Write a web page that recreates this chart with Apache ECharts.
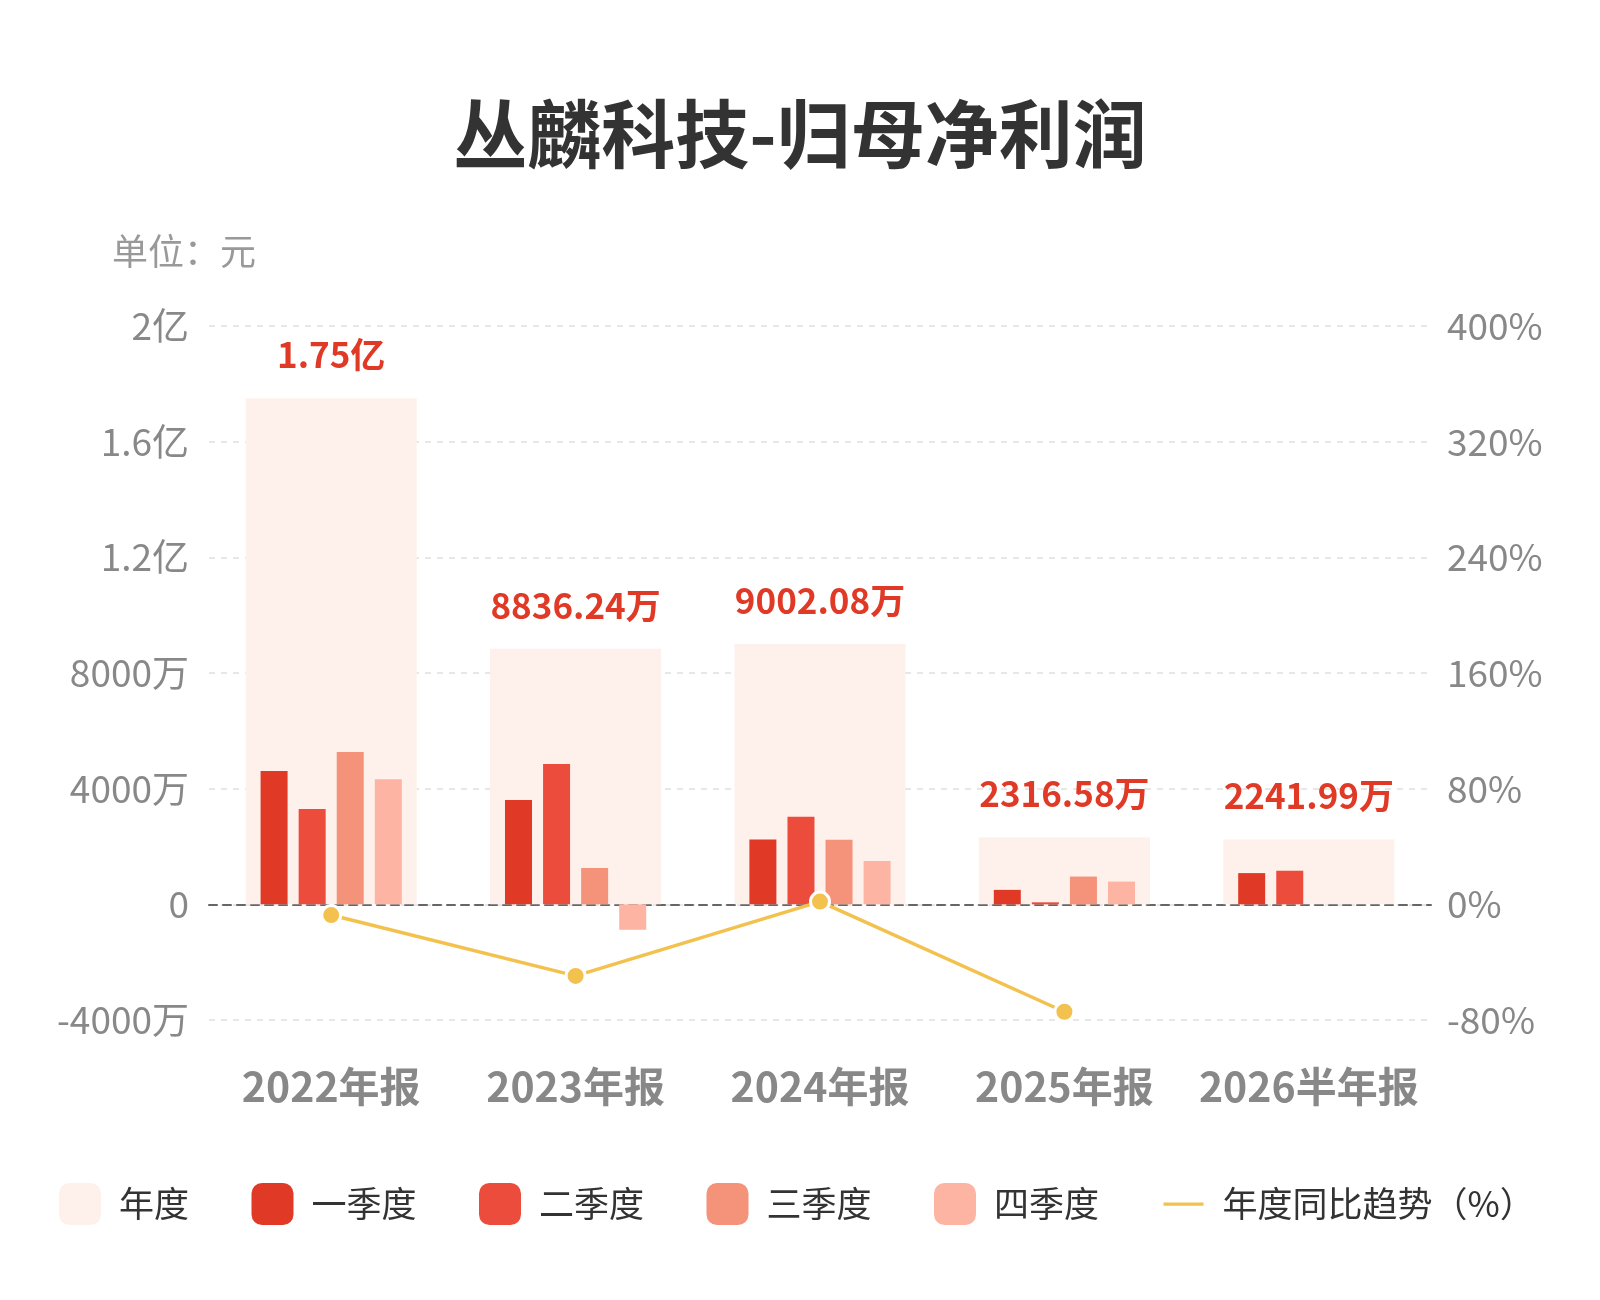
<!DOCTYPE html>
<html style="height: 100%">
<head>
    <meta charset="utf-8">
</head>
<body style="height: 100%; margin: 0; background: #fff">
<div id="main" style="width: 1600px; height: 1300px"></div>
<script src="https://cdn.jsdelivr.net/npm/echarts@6/dist/echarts.min.js"></script>
<script type="text/javascript">
    // 数据（单位：万元，同比单位：%）
    var categories = ['2022年报', '2023年报', '2024年报', '2025年报', '2026半年报'];
    var annual = [17500, 8836.24, 9002.08, 2316.58, 2241.99];
    var q1 = [4611, 3610, 2240, 500, 1080];
    var q2 = [3297, 4850, 3030, 70, 1162];
    var q3 = [5268, 1256, 2230, 960, null];
    var q4 = [4324, -880, 1502, 786, null];
    var yoy = [-7.4, -49.5, 1.88, -74.3, null];

    var numFont = "'Liberation Sans Narrow', 'Noto Sans CJK SC', sans-serif";
    var cjkFont = "'Noto Sans CJK SC', sans-serif";

    function fmtAxis(v) {
        if (v === 0) return '0';
        if (Math.abs(v) >= 10000) return (v / 10000) + '亿';
        return v + '万';
    }
    function fmtAnnual(p) {
        var v = p.value;
        if (Math.abs(v) >= 10000) return (v / 10000).toFixed(2) + '亿';
        return v.toFixed(2) + '万';
    }

    var myChart = echarts.init(document.getElementById('main'));

    var option = {
        backgroundColor: '#fff',
        title: [{
            text: '丛麟科技-归母净利润',
            left: 'center',
            top: 92,
            textStyle: { fontSize: 74, fontWeight: 'bold', color: '#333', fontFamily: cjkFont }
        }, {
            text: '单位：元',
            left: 107,
            top: 228,
            textStyle: { fontSize: 36, fontWeight: 'normal', color: '#999', fontFamily: cjkFont }
        }],
        grid: { left: 209, right: 169, top: 326, bottom: 280 },
        legend: {
            left: 54,
            top: 1178,
            itemWidth: 42,
            itemHeight: 42,
            itemGap: 62.5,
            textStyle: { fontSize: 35, color: '#333', fontFamily: cjkFont, padding: [0, 0, 0, 13] },
            data: [
                { name: '年度', icon: 'roundRect' },
                { name: '一季度', icon: 'roundRect' },
                { name: '二季度', icon: 'roundRect' },
                { name: '三季度', icon: 'roundRect' },
                { name: '四季度', icon: 'roundRect' },
                { name: '年度同比趋势（%）', icon: 'path://M0,0 L40,0 L40,5 L0,5 Z' }
            ]
        },
        xAxis: [{
            type: 'category',
            data: categories,
            position: 'bottom',
            axisLine: { show: false, onZero: false },
            axisTick: { show: false },
            axisLabel: {
                interval: 0,
                margin: 46,
                fontSize: 41,
                fontWeight: 'bold',
                color: '#888',
                fontFamily: numFont
            }
        }, {
            type: 'category',
            data: categories,
            position: 'bottom',
            axisLine: { show: true, onZero: true, lineStyle: { color: '#666', type: [8, 6], width: 2 } },
            axisTick: { show: false },
            axisLabel: { show: false },
            splitLine: { show: false }
        }],
        yAxis: [{
            type: 'value',
            min: -4000,
            max: 20000,
            interval: 4000,
            axisLine: { show: false },
            axisTick: { show: false },
            splitLine: { lineStyle: { color: '#e0e0e0', type: [6, 6], width: 1.5 } },
            axisLabel: { formatter: fmtAxis, fontSize: 37, color: '#888', margin: 20, fontFamily: numFont }
        }, {
            type: 'value',
            min: -80,
            max: 400,
            interval: 80,
            axisLine: { show: false },
            axisTick: { show: false },
            splitLine: { show: false },
            axisLabel: { formatter: '{value}%', fontSize: 37, color: '#888', margin: 16, fontFamily: numFont }
        }],
        series: [{
            name: '年度',
            type: 'bar',
            xAxisIndex: 1,
            barWidth: 171,
            data: annual,
            itemStyle: { color: '#fef0eb' },
            label: {
                show: true,
                position: 'top',
                distance: 26,
                formatter: fmtAnnual,
                fontSize: 35,
                fontWeight: 'bold',
                color: '#e03a26',
                fontFamily: numFont
            },
            z: 1
        }, {
            name: '一季度',
            type: 'bar',
            barWidth: 27,
            barGap: '41%',
            data: q1,
            itemStyle: { color: '#e03a26' },
            z: 2
        }, {
            name: '二季度',
            type: 'bar',
            barWidth: 27,
            barGap: '41%',
            data: q2,
            itemStyle: { color: '#ec4c3c' },
            z: 2
        }, {
            name: '三季度',
            type: 'bar',
            barWidth: 27,
            barGap: '41%',
            data: q3,
            itemStyle: { color: '#f4927a' },
            z: 2
        }, {
            name: '四季度',
            type: 'bar',
            barWidth: 27,
            barGap: '41%',
            data: q4,
            itemStyle: { color: '#fdb4a3' },
            z: 2
        }, {
            name: '年度同比趋势（%）',
            type: 'line',
            yAxisIndex: 1,
            data: yoy,
            symbol: 'circle',
            symbolSize: 19,
            lineStyle: { color: '#f2c14e', width: 3.5 },
            itemStyle: { color: '#f2c14e', borderColor: '#fff', borderWidth: 3 },
            z: 5
        }]
    };

    myChart.setOption(option);
    window.addEventListener('resize', function () {
        myChart.resize();
    });
</script>
</body>
</html>
